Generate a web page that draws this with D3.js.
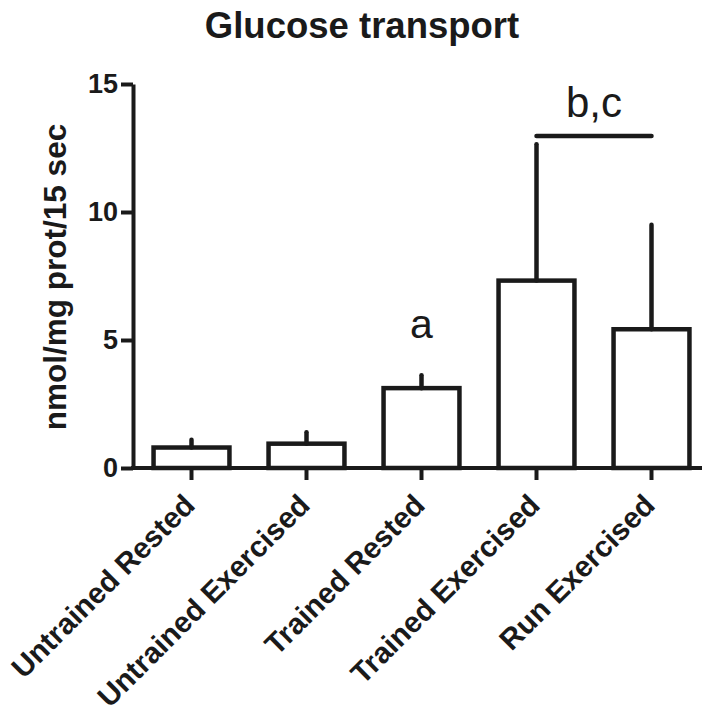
<!DOCTYPE html>
<html>
<head>
<meta charset="utf-8">
<script src="https://cdn.jsdelivr.net/npm/d3@7"></script>
<style>
  body { margin: 0; background: #fff; }
  text { font-family: "Liberation Sans", Arial, sans-serif; fill: #1a1a1a; }
</style>
</head>
<body>
<div id="chart"></div>
<script>
    // chart data
    var groups = ["Untrained Rested", "Untrained Exercised", "Trained Rested", "Trained Exercised", "Run Exercised"];
    var means = [0.8, 0.95, 3.12, 7.32, 5.42];
    var errTops = [1.1, 1.4, 3.62, 12.65, 9.5];
    var yTicks = [0, 5, 10, 15];

    // significance marks
    var letterGroups = ["Trained Rested"];
    var letterTexts = ["a"];
    var bracketFrom = "Trained Exercised";
    var bracketTo = "Run Exercised";
    var bracketValue = 12.97;
    var bracketText = "b,c";

    var svgWidth = 702;
    var svgHeight = 705;
    var ink = "#1a1a1a";

    var svg = d3.select("#chart")
        .append("svg")
        .attr("width", svgWidth)
        .attr("height", svgHeight);

    // scales
    var xScale = d3.scaleBand()
        .domain(groups)
        .range([134, 709])
        .paddingInner(0.34)
        .paddingOuter(0.17);

    var yScale = d3.scaleLinear()
        .domain([0, 15])
        .range([468, 84]);

    // title
    svg.append("text")
        .attr("x", 362)
        .attr("y", 38)
        .attr("text-anchor", "middle")
        .style("font-size", "36.5px")
        .style("font-weight", "bold")
        .text("Glucose transport");

    // y axis label
    svg.append("text")
        .attr("transform", "translate(66, 277) rotate(-90)")
        .attr("text-anchor", "middle")
        .style("font-size", "31.5px")
        .style("font-weight", "bold")
        .text("nmol/mg prot/15 sec");

    // bars
    svg.selectAll(".bar")
        .data(groups)
        .enter()
        .append("rect")
        .attr("class", "bar")
        .attr("x", d => xScale(d))
        .attr("width", xScale.bandwidth())
        .attr("y", (d, i) => yScale(means[i]))
        .attr("height", (d, i) => yScale(0) - yScale(means[i]))
        .attr("fill", "#fff")
        .attr("stroke", ink)
        .attr("stroke-width", 4.5);

    // error bars (upper only)
    svg.selectAll(".err")
        .data(groups)
        .enter()
        .append("line")
        .attr("class", "err")
        .attr("x1", d => xScale(d) + xScale.bandwidth() / 2)
        .attr("x2", d => xScale(d) + xScale.bandwidth() / 2)
        .attr("y1", (d, i) => yScale(means[i]))
        .attr("y2", (d, i) => yScale(errTops[i]))
        .attr("stroke", ink)
        .attr("stroke-width", 4.5)
        .attr("stroke-linecap", "round");

    // y axis
    var leftAxis = d3.axisLeft(yScale)
        .tickValues(yTicks)
        .tickSize(12)
        .tickSizeOuter(0)
        .tickPadding(3);

    var yAxisG = svg.append("g")
        .attr("transform", "translate(133, 0)")
        .call(leftAxis);

    yAxisG.selectAll("text")
        .style("font-size", "27px")
        .style("font-weight", "bold")
        .attr("fill", ink);

    // x axis
    var bottomAxis = d3.axisBottom(xScale)
        .tickSize(12)
        .tickSizeOuter(0)
        .tickFormat("");

    var xAxisG = svg.append("g")
        .attr("transform", "translate(0, 468)")
        .call(bottomAxis);

    xAxisG.select(".domain").attr("d", "M131,0H709");

    svg.selectAll(".domain, .tick line")
        .attr("stroke", ink)
        .attr("stroke-width", 4);

    // rotated category labels
    svg.selectAll(".xlabel")
        .data(groups)
        .enter()
        .append("text")
        .attr("class", "xlabel")
        .attr("text-anchor", "end")
        .attr("transform", d => `translate(${xScale(d) + xScale.bandwidth() / 2 + 5}, 507) rotate(-45)`)
        .style("font-size", "29.5px")
        .style("font-weight", "bold")
        .text(d => d);

    // letter above single bar
    letterGroups.forEach(function(g, k) {
        var i = groups.indexOf(g);
        svg.append("text")
            .attr("x", xScale(g) + xScale.bandwidth() / 2)
            .attr("y", yScale(errTops[i]) - 37)
            .attr("text-anchor", "middle")
            .style("font-size", "41px")
            .text(letterTexts[k]);
    });

    // bracket over two bars
    var bx1 = xScale(bracketFrom) + xScale.bandwidth() / 2;
    var bx2 = xScale(bracketTo) + xScale.bandwidth() / 2;

    svg.append("line")
        .attr("x1", bx1)
        .attr("x2", bx2)
        .attr("y1", yScale(bracketValue))
        .attr("y2", yScale(bracketValue))
        .attr("stroke", ink)
        .attr("stroke-width", 4.5)
        .attr("stroke-linecap", "round");

    svg.append("text")
        .attr("x", (bx1 + bx2) / 2)
        .attr("y", yScale(bracketValue) - 19)
        .attr("text-anchor", "middle")
        .style("font-size", "42px")
        .text(bracketText);
</script>
</body>
</html>
